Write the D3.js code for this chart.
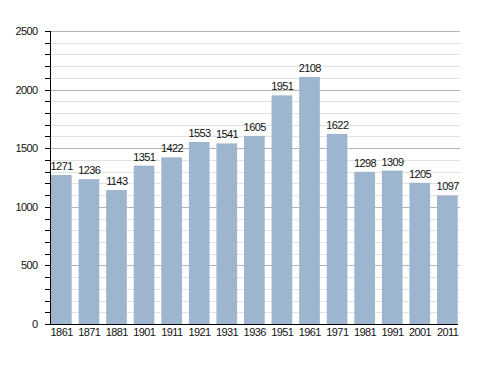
<!DOCTYPE html>
<html>
<head>
<meta charset="utf-8">
<script src="https://cdn.jsdelivr.net/npm/d3@7"></script>
<style>
  body { margin: 0; background: #fff; }
  text { font-family: "Liberation Sans", Arial, sans-serif; font-size: 11px; letter-spacing: -0.6px; fill: #111; }
</style>
</head>
<body>
<svg id="chart" width="488" height="373"></svg>
<script>
var years = ['1861', '1871', '1881', '1901', '1911', '1921', '1931', '1936',
             '1951', '1961', '1971', '1981', '1991', '2001', '2011'];
var population = [1271, 1236, 1143, 1351, 1422, 1553, 1541, 1605,
                  1951, 2108, 1622, 1298, 1309, 1205, 1097];
var majorTicks = [0, 500, 1000, 1500, 2000, 2500];

(function () {
  var svg = d3.select('#chart');
  var plotLeft = 50, plotRight = 460, plotTop = 31, plotBottom = 324;

  var x = d3.scaleBand()
    .domain(years)
    .range([51, 457.7])
    .paddingInner(0.25)
    .paddingOuter(0);

  var y = d3.scaleLinear()
    .domain([0, 2500])
    .range([plotBottom, plotTop]);

  function py(d) { return Math.round(y(d)) + 0.5; }

  // minor grid
  svg.append('g').selectAll('line')
    .data(d3.range(100, 2500, 100).filter(function (d) { return d % 500 !== 0; }))
    .enter().append('line')
    .attr('x1', plotLeft).attr('x2', plotRight)
    .attr('y1', py).attr('y2', py)
    .attr('stroke', '#e2e2e2');

  // major grid
  svg.append('g').selectAll('line')
    .data(majorTicks.slice(1))
    .enter().append('line')
    .attr('x1', plotLeft).attr('x2', plotRight)
    .attr('y1', py).attr('y2', py)
    .attr('stroke', '#b4b4b4');

  // bars
  svg.append('g').selectAll('rect')
    .data(population)
    .enter().append('rect')
    .attr('x', function (d, i) { return x(years[i]); })
    .attr('width', x.bandwidth())
    .attr('y', function (d) { return y(d); })
    .attr('height', function (d) { return plotBottom - y(d); })
    .attr('fill', '#9eb5d0');

  // value labels
  svg.append('g').selectAll('text')
    .data(population)
    .enter().append('text')
    .attr('x', function (d, i) { return x(years[i]) + x.bandwidth() / 2 + 0.3; })
    .attr('y', function (d) { return y(d) - 5; })
    .attr('text-anchor', 'middle')
    .text(function (d) { return d; });

  // y axis
  var yAxis = svg.append('g');
  yAxis.append('line')
    .attr('x1', plotLeft + 0.5).attr('x2', plotLeft + 0.5)
    .attr('y1', plotTop).attr('y2', plotBottom)
    .attr('stroke', '#000');
  yAxis.selectAll('line.tick')
    .data(d3.range(0, 2600, 100))
    .enter().append('line')
    .attr('class', 'tick')
    .attr('x1', plotLeft - 5).attr('x2', plotLeft)
    .attr('y1', py).attr('y2', py)
    .attr('stroke', '#000');
  yAxis.selectAll('text')
    .data(majorTicks)
    .enter().append('text')
    .attr('x', 37.5)
    .attr('y', function (d) { return y(d) + 4; })
    .attr('text-anchor', 'end')
    .text(function (d) { return d; });

  // x axis
  svg.append('line')
    .attr('x1', plotLeft).attr('x2', plotRight - 2)
    .attr('y1', plotBottom + 0.5).attr('y2', plotBottom + 0.5)
    .attr('stroke', '#000');
  svg.append('g').selectAll('text')
    .data(years)
    .enter().append('text')
    .attr('x', function (d) { return x(d) + x.bandwidth() / 2 + 0.3; })
    .attr('y', plotBottom + 12)
    .attr('text-anchor', 'middle')
    .text(function (d) { return d; });
})();
</script>
</body>
</html>
